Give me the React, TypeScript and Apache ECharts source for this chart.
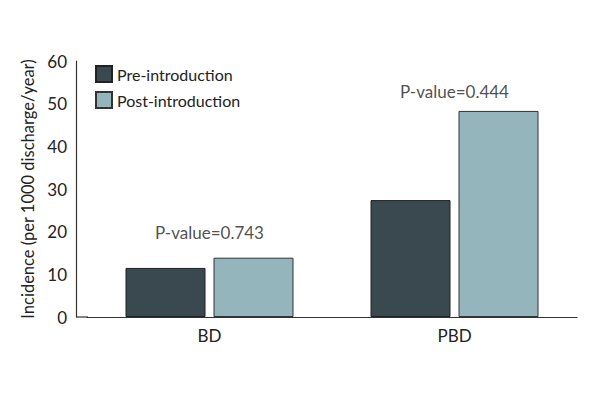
import React, { useEffect, useRef } from "react";
import * as echarts from "echarts";

const categories = ["BD", "PBD"];
const preValues = [11.5, 27.4];
const postValues = [13.9, 48.3];
const pLabels = ["P-value=0.743", "P-value=0.444"];
const pLabelHeights = [19.8, 52.8];
const seriesNames = ["Pre-introduction", "Post-introduction"];

const FONT = "Lato, 'Noto Sans', sans-serif";
const FS = 17;

export default function App() {
  const ref = useRef<HTMLDivElement>(null);
  useEffect(() => {
    if (!ref.current) return;
    const chart = echarts.init(ref.current, undefined, { renderer: "svg" });
    chart.setOption({
      animation: false,
      textStyle: { fontFamily: FONT, color: "#222" },
      grid: { left: 87, right: 23, top: 61, bottom: 83 },
      legend: {
        orient: "vertical",
        left: 90,
        top: 60,
        itemWidth: 16,
        itemHeight: 16,
        itemGap: 8,
        icon: "rect",
        textStyle: { fontFamily: FONT, fontSize: 16, color: "#222" },
        data: seriesNames,
      },
      xAxis: {
        type: "category",
        data: categories,
        axisLine: { lineStyle: { color: "#333", width: 1.2 } },
        axisTick: { show: false },
        axisLabel: { fontFamily: FONT, fontSize: FS, color: "#222", margin: 10 },
      },
      yAxis: {
        type: "value",
        min: 0,
        max: 60,
        interval: 10,
        offset: 11,
        name: "Incidence (per 1000 discharge/year)",
        nameLocation: "middle",
        nameGap: 38,
        nameTextStyle: { fontFamily: FONT, fontSize: 16.5, color: "#222" },
        axisLine: { show: true, lineStyle: { color: "#333", width: 1.2 } },
        axisTick: { show: false },
        splitLine: { show: false },
        axisLabel: { fontFamily: FONT, fontSize: FS, color: "#222", margin: 9 },
      },
      graphic: [
        {
          type: "line",
          shape: { x1: 76, y1: 317, x2: 88, y2: 317 },
          style: { stroke: "#333", lineWidth: 1.2 },
        },
      ],
      series: [
        {
          name: seriesNames[0],
          type: "bar",
          data: preValues,
          barWidth: 80,
          barGap: "10%",
          itemStyle: { color: "#3a4950", borderColor: "#222", borderWidth: 1 },
        },
        {
          name: seriesNames[1],
          type: "bar",
          data: postValues,
          barWidth: 80,
          barGap: "10%",
          itemStyle: { color: "#95b5bd", borderColor: "#333", borderWidth: 1 },
        },
        {
          name: "pvalues",
          type: "scatter",
          symbolSize: 0,
          silent: true,
          data: pLabelHeights.map((v, i) => ({ value: [categories[i], v], name: pLabels[i] })),
          label: {
            show: true,
            position: "inside",
            formatter: "{b}",
            fontFamily: FONT,
            fontSize: FS,
            color: "#222",
          },
        },
      ],
    });
    return () => chart.dispose();
  }, []);
  return (
    <div
      ref={ref}
      style={{ position: "absolute", left: 0, top: 0, width: 600, height: 400 }}
    />
  );
}
